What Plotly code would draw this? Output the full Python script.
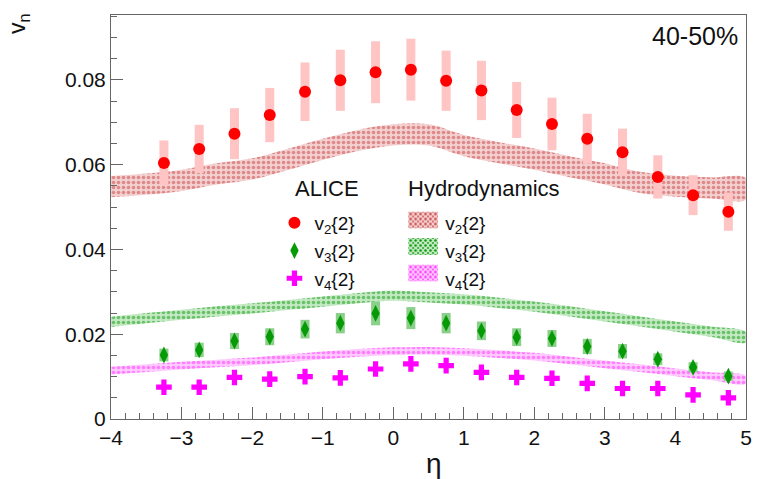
import base64
import plotly.graph_objects as go

# ---------------- data ----------------
eta = [-3.25, -2.75, -2.25, -1.75, -1.25, -0.75, -0.25, 0.25, 0.75,
       1.25, 1.75, 2.25, 2.75, 3.25, 3.75, 4.25, 4.75]

v2 = [0.0604, 0.0637, 0.0673, 0.0717, 0.0772, 0.0799, 0.0818, 0.0824, 0.0798,
      0.0775, 0.0729, 0.0696, 0.0661, 0.0629, 0.0571, 0.0528, 0.0489]
v2_sys = [0.0053, 0.0057, 0.0060, 0.0064, 0.0069, 0.0072, 0.0073, 0.0073, 0.0071,
          0.0070, 0.0066, 0.0062, 0.0059, 0.0056, 0.0051, 0.0047, 0.0045]

v3 = [0.0151, 0.0163, 0.0184, 0.0194, 0.0212, 0.0226, 0.0249, 0.0238, 0.0226,
      0.0208, 0.0193, 0.0190, 0.0171, 0.0160, 0.0141, 0.0122, 0.0101]
v3_sys = [0.0015, 0.0017, 0.0019, 0.0020, 0.0022, 0.0024, 0.0028, 0.0026, 0.0024,
          0.0022, 0.0021, 0.0020, 0.0018, 0.0017, 0.0014, 0.0012, 0.0011]

v4 = [0.0075, 0.0075, 0.0098, 0.0094, 0.0100, 0.0097, 0.0118, 0.0130, 0.0126,
      0.0110, 0.0098, 0.0096, 0.0084, 0.0072, 0.0072, 0.0057, 0.0050]

hydro_eta = [-4, -3.5, -3, -2.5, -2, -1.5, -1, -0.5, 0, 0.5, 1, 1.5, 2, 2.5,
             3, 3.5, 4, 4.5, 5]
hydro_v2 = [0.0548, 0.0554, 0.0563, 0.0578, 0.0590, 0.0612, 0.0636, 0.0657, 0.0670,
            0.0670, 0.0645, 0.0628, 0.0613, 0.0595, 0.0578, 0.0558, 0.0549, 0.0545, 0.0543]
hydro_v2_w = 0.0025
hydro_v3 = [0.0229, 0.0238, 0.0246, 0.0254, 0.0261, 0.0269, 0.0277, 0.0285, 0.0291,
            0.0287, 0.0282, 0.0274, 0.0265, 0.0254, 0.0242, 0.0230, 0.0218, 0.0206, 0.0193]
hydro_v3_w = 0.0012
hydro_v4 = [0.0114, 0.0120, 0.0126, 0.0131, 0.0136, 0.0143, 0.0150, 0.0156, 0.0160,
            0.0161, 0.0158, 0.0153, 0.0147, 0.0138, 0.0129, 0.0120, 0.0110, 0.0101, 0.0092]
hydro_v4_w = 0.0009

x_ticks = [-4, -3, -2, -1, 0, 1, 2, 3, 4, 5]
y_ticks = [0, 0.02, 0.04, 0.06, 0.08]
y_tick_labels = ["0", "0.02", "0.04", "0.06", "0.08"]

series_names = ["v<sub>2</sub>{2}", "v<sub>3</sub>{2}", "v<sub>4</sub>{2}"]

FONT = "Liberation Sans, Arial, Helvetica, sans-serif"
TXT = "#111111"

band_styles = [("#c94444", "#f3cfcf"), ("#129912", "#c2e9c2"), ("#ff2cff", "#ffcaff")]

fig = go.Figure()


def band(center, half, name, fg, bg):
    up = [c + half for c in center]
    lo = [c - half for c in center]
    fig.add_trace(go.Scatter(
        x=hydro_eta + hydro_eta[::-1],
        y=up + lo[::-1],
        fill="toself",
        mode="lines",
        line=dict(width=0, color=bg, shape="spline"),
        fillcolor=bg,
        fillpattern=dict(shape=".", fgcolor=fg, bgcolor=bg, size=5, solidity=0.42),
        name=name, showlegend=False, hoverinfo="skip",
    ))


band(hydro_v2, hydro_v2_w, series_names[0], *band_styles[0])
band(hydro_v3, hydro_v3_w, series_names[1], *band_styles[1])
band(hydro_v4, hydro_v4_w, series_names[2], *band_styles[2])

# ALICE data
fig.add_trace(go.Scatter(
    x=eta, y=v2, mode="markers",
    marker=dict(symbol="circle", size=12, color="#ff0000"),
    error_y=dict(type="data", array=v2_sys, color="#ffc4c4", thickness=9, width=0),
    name=series_names[0], legend="legend",
))
fig.add_trace(go.Scatter(
    x=eta, y=v3, mode="markers",
    marker=dict(symbol="diamond-tall", size=12, color="#079a07"),
    error_y=dict(type="data", array=v3_sys, color="#8acf8a", thickness=9, width=0),
    name=series_names[1], legend="legend",
))
fig.add_trace(go.Scatter(
    x=eta, y=v4, mode="markers",
    marker=dict(symbol="cross", size=13, color="#ff00ff"),
    name=series_names[2], legend="legend",
))

# Hydrodynamics legend entries (text); swatches drawn as patterned images
for nm in series_names:
    fig.add_trace(go.Scatter(x=[None], y=[None], mode="lines",
                             line=dict(width=0, color="rgba(0,0,0,0)"),
                             name=nm, legend="legend2", hoverinfo="skip"))


def swatch_uri(fg, bg):
    svg = ("<svg xmlns='http://www.w3.org/2000/svg' width='30' height='17'>"
           "<defs><pattern id='p' width='5' height='5' patternUnits='userSpaceOnUse'>"
           f"<rect width='5' height='5' fill='{bg}'/>"
           f"<circle cx='2.5' cy='2.5' r='1.3' fill='{fg}'/>"
           f"<circle cx='0' cy='0' r='0.9' fill='{fg}'/>"
           f"<circle cx='5' cy='0' r='0.9' fill='{fg}'/>"
           f"<circle cx='0' cy='5' r='0.9' fill='{fg}'/>"
           f"<circle cx='5' cy='5' r='0.9' fill='{fg}'/>"
           "</pattern></defs><rect width='30' height='17' fill='url(#p)'/></svg>")
    return "data:image/svg+xml;base64," + base64.b64encode(svg.encode()).decode()


PL, PW, PB, PH = 111, 641, 419, 404  # plot area in px (left, width, bottom, height)
row_y = [220, 246.5, 273]
images = []
for (fg, bg), ry in zip(band_styles, row_y):
    images.append(dict(source=swatch_uri(fg, bg), xref="paper", yref="paper",
                       x=(411 - PL) / PW, y=(PB - ry) / PH, sizex=30 / PW, sizey=17 / PH,
                       xanchor="left", yanchor="middle", sizing="stretch", layer="above"))

axis_common = dict(
    showline=True, linecolor="#666666", linewidth=1, mirror=True,
    ticks="inside", ticklen=12, tickcolor="#666666", tickwidth=1,
    showgrid=False, zeroline=False,
    tickfont=dict(family=FONT, size=21, color=TXT),
)

fig.update_xaxes(range=[-4, 5], tickvals=x_ticks,
                 ticktext=[("\u2212" + str(abs(t))) if t < 0 else str(t) for t in x_ticks],
                 minor=dict(dtick=0.2, ticks="inside", ticklen=6, tickcolor="#666666"),
                 **axis_common)
fig.update_yaxes(range=[0, 0.0953], tickvals=y_ticks, ticktext=y_tick_labels,
                 minor=dict(dtick=0.005, ticks="inside", ticklen=6, tickcolor="#666666"),
                 **axis_common)

leg_font = dict(family=FONT, size=19, color=TXT)
leg_top = (PB - 204) / PH
fig.update_layout(
    width=759, height=479,
    margin=dict(l=PL, r=759 - PL - PW, t=15, b=479 - PB),
    paper_bgcolor="white", plot_bgcolor="white",
    showlegend=True,
    images=images,
    legend=dict(x=(276 - PL) / PW, y=leg_top, xanchor="left", yanchor="top",
                bgcolor="rgba(0,0,0,0)", font=leg_font, tracegroupgap=0),
    legend2=dict(x=(408 - PL) / PW, y=leg_top, xanchor="left", yanchor="top",
                 bgcolor="rgba(0,0,0,0)", font=leg_font, tracegroupgap=0),
    annotations=[
        dict(text="ALICE", xref="paper", yref="paper",
             x=(295 - PL) / PW, y=(PB - 188) / PH, xanchor="left", yanchor="middle",
             showarrow=False, font=dict(family=FONT, size=22, color=TXT)),
        dict(text="Hydrodynamics", xref="paper", yref="paper",
             x=(409 - PL) / PW, y=(PB - 188) / PH, xanchor="left", yanchor="middle",
             showarrow=False, font=dict(family=FONT, size=22, color=TXT)),
        dict(text="40-50%", xref="paper", yref="paper",
             x=(701 - PL) / PW, y=(PB - 36) / PH, xanchor="center", yanchor="middle",
             showarrow=False, font=dict(family=FONT, size=25, color=TXT)),
        dict(text="\u03b7", xref="paper", yref="paper",
             x=(437 - PL) / PW, y=(PB - 463) / PH, xanchor="center", yanchor="middle",
             showarrow=False, font=dict(family=FONT, size=28, color=TXT)),
        dict(text="v<sub>n</sub>", xref="paper", yref="paper", textangle=-90,
             x=(17 - PL) / PW, y=(PB - 24) / PH, xanchor="center", yanchor="middle",
             showarrow=False, font=dict(family=FONT, size=23, color=TXT)),
    ],
)

fig.write_html("out.html")
